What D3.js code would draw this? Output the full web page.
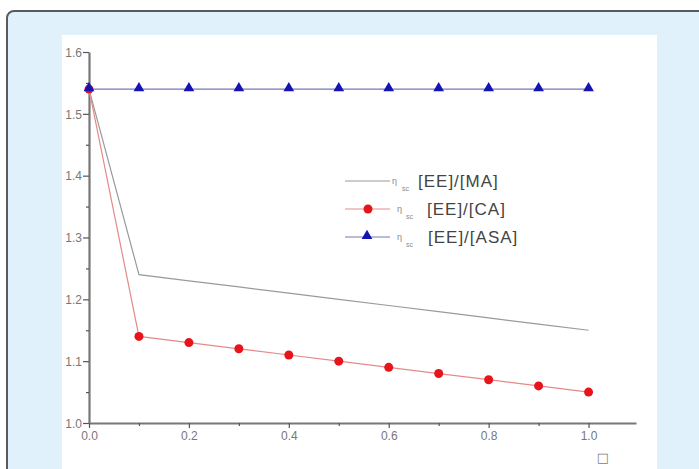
<!DOCTYPE html>
<html>
<head>
<script src="https://d3js.org/d3.v7.min.js"></script>
<style>
  body { margin: 0; background: #fff; }
  text { font-family: "Liberation Sans", Arial, sans-serif; }
</style>
</head>
<body>
<div id="chart"></div>
<script>
var width = 699, height = 469;

var xValues = [0, 0.1, 0.2, 0.3, 0.4, 0.5, 0.6, 0.7, 0.8, 0.9, 1.0];
var maValues = [1.54, 1.24, 1.23, 1.22, 1.21, 1.20, 1.19, 1.18, 1.17, 1.16, 1.15];
var caValues = [1.54, 1.14, 1.13, 1.12, 1.11, 1.10, 1.09, 1.08, 1.07, 1.06, 1.05];
var asaValues = [1.54, 1.54, 1.54, 1.54, 1.54, 1.54, 1.54, 1.54, 1.54, 1.54, 1.54];
var xTicks = [0, 0.2, 0.4, 0.6, 0.8, 1.0];
var yTicks = [1.0, 1.1, 1.2, 1.3, 1.4, 1.5, 1.6];
var legendLabels = ["[EE]/[MA]", "[EE]/[CA]", "[EE]/[ASA]"];

var svg = d3.select("#chart").append("svg")
  .attr("width", width).attr("height", height);

// outer panel
svg.append("rect").attr("x", 7).attr("y", 11).attr("width", 710).attr("height", 480)
  .attr("rx", 7).attr("fill", "#e0f1fc").attr("stroke", "#5a5a5a").attr("stroke-width", 2);
svg.append("rect").attr("x", 62).attr("y", 35).attr("width", 595).attr("height", 440)
  .attr("fill", "#ffffff");

var x = d3.scaleLinear().domain([0, 1.095]).range([89, 636]);
var y = d3.scaleLinear().domain([1.0, 1.6]).range([423, 52]);

// axes
var xAxis = svg.append("g").attr("transform", "translate(0,423)")
  .call(d3.axisBottom(x).tickValues(xTicks).tickFormat(d3.format(".1f")).tickSize(5).tickSizeOuter(0));
svg.append("g").attr("transform", "translate(0,423)")
  .call(d3.axisBottom(x).tickValues([0.1, 0.3, 0.5, 0.7, 0.9]).tickFormat("").tickSize(3).tickSizeOuter(0))
  .select(".domain").remove();
var yAxis = svg.append("g").attr("transform", "translate(89,0)")
  .call(d3.axisLeft(y).tickValues(yTicks).tickFormat(d3.format(".1f")).tickSize(6).tickSizeOuter(0));
svg.append("g").attr("transform", "translate(89,0)")
  .call(d3.axisLeft(y).tickValues([1.05, 1.15, 1.25, 1.35, 1.45, 1.55]).tickFormat("").tickSize(3).tickSizeOuter(0))
  .select(".domain").remove();

svg.selectAll(".domain").attr("stroke", "#777").attr("stroke-width", 2.2);
svg.selectAll(".tick line").attr("stroke", "#555").attr("stroke-width", 1.2);
svg.selectAll(".tick text").attr("fill", "#777").style("font-size", "12px");
yAxis.selectAll(".tick text").attr("x", -7).attr("dy", "0.35em");
xAxis.selectAll(".tick text").attr("y", 8);

svg.append("text").attr("x", 603).attr("y", 462).attr("text-anchor", "middle")
  .attr("fill", "#808080").style("font-family", "DejaVu Sans").style("font-size", "13px").text("\u25A1");

var line = d3.line().x(function(d, i) { return x(xValues[i]); }).y(function(d) { return y(d); });

svg.append("path").datum(maValues).attr("d", line).attr("fill", "none")
  .attr("stroke", "#9a9a9a").attr("stroke-width", 1.2);
svg.append("path").datum(caValues).attr("d", line).attr("fill", "none")
  .attr("stroke", "#e58a8a").attr("stroke-width", 1.2);
svg.append("path").datum(asaValues).attr("d", line).attr("fill", "none")
  .attr("stroke", "#7676b8").attr("stroke-width", 1.2);

svg.selectAll("circle.ca").data(caValues).enter().append("circle")
  .attr("class", "ca")
  .attr("cx", function(d, i) { return x(xValues[i]); })
  .attr("cy", function(d) { return y(d); })
  .attr("r", 4.5).attr("fill", "#e8141c");

var tri = d3.symbol().type(d3.symbolTriangle).size(50);
svg.selectAll("path.asa").data(asaValues).enter().append("path")
  .attr("class", "asa")
  .attr("d", tri)
  .attr("transform", function(d, i) { return "translate(" + x(xValues[i]) + "," + (y(d) - 1) + ")"; })
  .attr("fill", "#1414b4");

// legend
var legY = [181, 209, 237];
var legStroke = ["#9a9a9a", "#e58a8a", "#7676b8"];
var legTextX = [418, 427, 428];
var leg = svg.selectAll("g.leg").data(legendLabels).enter().append("g").attr("class", "leg");
leg.append("line").attr("x1", 345).attr("x2", 390)
  .attr("y1", function(d, i) { return legY[i]; }).attr("y2", function(d, i) { return legY[i]; })
  .attr("stroke", function(d, i) { return legStroke[i]; }).attr("stroke-width", 1.2);
leg.append("text").attr("x", function(d, i) { return i === 0 ? 392 : 397; })
  .attr("y", function(d, i) { return legY[i] + 3; })
  .attr("fill", "#888").style("font-size", "9px").text("\u03B7");
leg.append("text").attr("x", function(d, i) { return i === 0 ? 402 : 406; })
  .attr("y", function(d, i) { return legY[i] + 10; })
  .attr("fill", "#888").style("font-size", "7px").text("sc");
leg.append("text").attr("x", function(d, i) { return legTextX[i]; })
  .attr("y", function(d, i) { return legY[i] + 6; })
  .attr("fill", "#444").style("font-size", "17px").style("letter-spacing", "1px")
  .text(function(d) { return d; });
svg.append("circle").attr("cx", 368).attr("cy", legY[1]).attr("r", 4.5).attr("fill", "#e8141c");
svg.append("path").attr("d", tri).attr("transform", "translate(367," + (legY[2] - 1) + ")").attr("fill", "#1414b4");
</script>
</body>
</html>
